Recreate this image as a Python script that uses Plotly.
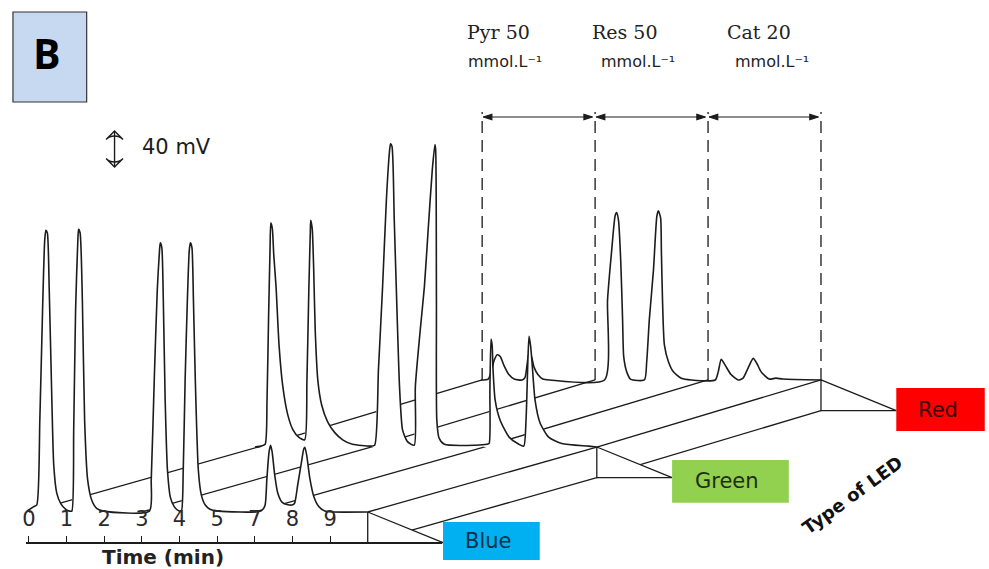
import plotly.graph_objects as go

W, H = 989, 569

# Chromatograms, one per LED: position on the run-time axis and detector signal (mV)
blue_t = [-0.05, 0.13, 0.21, 0.29, 0.37, 0.42, 0.45, 0.49, 0.54, 0.61, 0.66, 0.74, 0.85, 0.98, 1.08,
          1.14, 1.19, 1.24, 1.30, 1.32, 1.36, 1.42, 1.48, 1.56, 1.67, 1.80, 1.98,
          3.20, 3.25, 3.33, 3.41, 3.47, 3.49, 3.53, 3.57, 3.62, 3.68, 3.76, 3.86, 3.99,
          4.05, 4.10, 4.15, 4.21, 4.26, 4.29, 4.33, 4.37, 4.42, 4.50, 4.58, 4.68, 4.81, 5.03,
          6.16, 6.27, 6.32, 6.38, 6.42, 6.46, 6.53, 6.61, 6.72, 6.88, 7.01,
          7.06, 7.14, 7.25, 7.30, 7.33, 7.38, 7.46, 7.57, 7.70, 7.86, 8.07, 9.00]
blue_mv = [1, 6, 8, 102, 236, 302, 313, 310, 247, 124, 52, 21, 9, 3, 1,
           1, 91, 224, 302, 314, 310, 236, 102, 36, 13, 4, 1,
           1, 36, 147, 247, 291, 299, 294, 236, 124, 47, 16, 6, 1,
           1, 47, 147, 236, 291, 299, 294, 236, 147, 47, 19, 8, 3, 1,
           1, 7, 36, 67, 74, 67, 41, 21, 11, 8, 8,
           10, 30, 58, 70, 72, 63, 38, 17, 6, 1, 0, 0]

green_t = [-0.08, 0.08, 0.19, 0.24, 0.28, 0.32, 0.34, 0.38, 0.42, 0.48, 0.56, 0.66, 0.79, 0.93, 1.08, 1.24,
           1.30, 1.35, 1.39, 1.40, 1.44, 1.48, 1.52, 1.59, 1.69, 1.85, 2.04, 2.25, 2.51, 2.99, 3.10,
           3.20, 3.31, 3.41, 3.49, 3.52, 3.56, 3.62, 3.70, 3.76, 3.84, 3.97, 4.15,
           4.18, 4.31, 4.42, 4.52, 4.63, 4.70, 4.72, 4.74, 4.75, 4.81, 4.95, 5.77, 6.08,
           6.14, 6.16, 6.19, 6.22, 6.24, 6.30, 6.43, 6.67, 6.93, 7.06,
           7.12, 7.17, 7.20, 7.24, 7.28, 7.36, 7.49, 7.72, 8.07, 8.78, 9.00]
green_mv = [0, 1, 3, 52, 141, 219, 249, 243, 213, 178, 113, 67, 36, 19, 11, 8,
            74, 174, 239, 252, 243, 197, 130, 74, 47, 28, 16, 8, 3, 1, 2,
            86, 178, 274, 327, 337, 334, 252, 141, 67, 19, 6, 2,
            67, 130, 178, 241, 308, 336, 330, 163, 30, 10, 3, 2, 3,
            4, 63, 120, 113, 89, 52, 30, 11, 3, 1,
            30, 97, 123, 113, 94, 52, 27, 11, 4, 1, 0]

red_t = [-0.03, 0.16, 0.24, 0.32, 0.40, 0.48, 0.58, 0.71, 0.85, 1.06, 1.14, 1.19, 1.24, 1.30, 1.38, 1.48, 1.61, 1.80,
         3.25, 3.33, 3.44, 3.53, 3.57, 3.62, 3.68, 3.73, 3.76, 3.84, 3.94, 4.31,
         4.37, 4.44, 4.55, 4.64, 4.68, 4.74, 4.76, 4.79, 4.84, 4.95, 5.08, 5.29, 5.56,
         6.19, 6.27, 6.35, 6.46, 6.61, 6.80, 6.93, 7.06, 7.20, 7.30, 7.41, 7.62, 7.80, 7.99, 9.00]
red_mv = [0, 1, 9, 22, 28, 26, 16, 6, 1, 0, 3, 16, 29, 27, 14, 6, 1, 0,
          0, 89, 144, 182, 186, 178, 133, 67, 26, 9, 1, 0,
          20, 67, 122, 182, 188, 180, 144, 89, 39, 20, 9, 2, 0,
          0, 9, 23, 16, 6, 0, 2, 13, 24, 18, 9, 1, 2, 1, 0]

time_tick_labels = ["0", "1", "2", "3", "4", "5", "7", "8", "9"]
section_bounds = [0, 3, 6, 9]
section_labels = ["Pyr 50", "Res 50", "Cat 20"]
conc_unit = "mmol.L\u207b\u00b9"
led_names = ["Blue", "Green", "Red"]
scale_bar_mv = 40

# Drawing geometry (pseudo-3D waterfall)
PX_T = 37.8                 # px per time step
PX_MV = 0.9                 # px per mV
X_ORIGIN, Y_ORIGIN = 25, 512
DEPTH = [(0.0, 0.0), (6.085, 72.2), (12.04, 146.7)]   # plane offsets (time, mV)
SLAB = 34                   # plinth under each plane, mV
POINTER = 2.0               # wedge length toward each LED label, time units
T_END = section_bounds[-1]
LED_FILL = ["#00b0f0", "#92d050", "#ff0000"]
LED_TEXT = ["#10304e", "#1f2e12", "#3a0505"]
BOX = [(2.57, 19.3, 22.9), (3.10, 28.0, 19.6), (2.35, 22.7, 25.0)]  # width, below, above
LINE = "#1c1c1c"

X0, X1 = -X_ORIGIN / PX_T, (W - X_ORIGIN) / PX_T
Y0, Y1 = -(H - Y_ORIGIN) / PX_MV, Y_ORIGIN / PX_MV


def to_data(px, py):
    return (px - X_ORIGIN) / PX_T, (Y_ORIGIN - py) / PX_MV


fig = go.Figure()


def seg(x, y, width=1.3, dash=None, color=LINE):
    fig.add_trace(go.Scatter(x=x, y=y, mode="lines", hoverinfo="skip", showlegend=False,
                             line=dict(color=color, width=width, dash=dash)))


def plane(k, t, mv):
    du, dv = DEPTH[k]
    xs = [ti + du for ti in t]
    ys = [m + dv for m in mv]
    fig.add_trace(go.Scatter(x=xs + [xs[-1], xs[0]], y=ys + [dv, dv], mode="lines",
                             fill="toself", fillcolor="white", line=dict(width=0),
                             hoverinfo="skip", showlegend=False))
    fig.add_trace(go.Scatter(x=xs, y=ys, mode="lines", name=led_names[k], showlegend=False,
                             hoverinfo="skip",
                             line=dict(color=LINE, width=1.6, shape="spline", smoothing=0.6)))


def links(k):
    du0, dv0 = DEPTH[k]
    du1, dv1 = DEPTH[k + 1]
    xs, ys = [], []
    for b in section_bounds:
        xs += [b + du0, b + du1, None]
        ys += [dv0, dv1, None]
    xs += [T_END + du0, T_END + du1]
    ys += [dv0 - SLAB, dv1 - SLAB]
    seg(xs, ys)


def wedge(k):
    du, dv = DEPTH[k]
    x0 = T_END + du
    fig.add_trace(go.Scatter(x=[x0, x0, x0 + POINTER, x0], y=[dv, dv - SLAB, dv - SLAB, dv],
                             mode="lines", fill="toself", fillcolor="white",
                             line=dict(color=LINE, width=1.3), hoverinfo="skip", showlegend=False))


def double_arrow(x, y, angles, symbol, size, width):
    # shaft plus a head at each end; arrow symbols put their tip on the point
    fig.add_trace(go.Scatter(x=x, y=y, mode="lines+markers", hoverinfo="skip", showlegend=False,
                             line=dict(color=LINE, width=width),
                             marker=dict(symbol=symbol, size=size, angle=angles, color=LINE,
                                         line=dict(color=LINE, width=width))))


# dimension lines marking each analyte section on the back plane
dim_top = to_data(0, 112)[1]
du_r, dv_r = DEPTH[2]
dx, dy = [], []
for b in section_bounds:
    dx += [b + du_r, b + du_r, None]
    dy += [dv_r, dim_top, None]
seg(dx, dy, width=1.4, dash="12px,7px", color="#2a2a2a")

arrow_v = to_data(0, 117)[1]
for i in range(len(section_labels)):
    a = section_bounds[i] + du_r + 0.03
    b = section_bounds[i + 1] + du_r - 0.07
    double_arrow([a, b], [arrow_v, arrow_v], [270, 90], "arrow", 9, 1.2)

# 40 mV scale bar
sx, sy = to_data(111, 167)
double_arrow([sx, sx], [sy, sy + scale_bar_mv], [180, 0], "arrow-wide-open", 12, 1.4)

# back to front with opaque bodies so hidden lines disappear
plane(2, red_t, red_mv)
links(1)
wedge(2)
wedge(1)
plane(1, green_t, green_mv)
links(0)
wedge(0)
plane(0, blue_t, blue_mv)

# carrier trace for the run-time axis
fig.add_trace(go.Scatter(x=[0], y=[0], xaxis="x2", yaxis="y", mode="markers",
                         marker=dict(opacity=0), hoverinfo="skip", showlegend=False))

ax_left, ax_right = 22, 440
axis_y = Y_ORIGIN + SLAB * PX_MV

shapes = [dict(type="rect", xref="paper", yref="paper", x0=9 / W, x1=83 / W,
               y0=1 - 102 / H, y1=1 - 12 / H, fillcolor="#c6d9f1",
               line=dict(color="#333333", width=1.2))]
annotations = []


def label(text, px, py, size, family="DejaVu Sans", color=LINE, bold=False, angle=0,
          xanchor="center"):
    annotations.append(dict(x=px / W, y=1 - py / H, xref="paper", yref="paper",
                            text=f"<b>{text}</b>" if bold else text, showarrow=False,
                            xanchor=xanchor, yanchor="middle", textangle=angle,
                            font=dict(family=family, size=size, color=color)))


label("B", 43, 53, 41, family="Open Sans", color="#000000", bold=True)
label("40 mV", 137, 147, 21, xanchor="left")

label_px = [(497, 503), (624, 637), (758, 771)]
for i, name in enumerate(section_labels):
    label(name, label_px[i][0], 32, 19, family="DejaVu Serif", color="#222222")
    label(conc_unit, label_px[i][1], 62, 16, color="#222222")

# LED labels
for k, name in enumerate(led_names):
    du, dv = DEPTH[k]
    fx = T_END + du + POINTER
    fy = dv - SLAB
    w, below, above = BOX[k]
    shapes.append(dict(type="rect", xref="x", yref="y", x0=fx, x1=fx + w,
                       y0=fy - below, y1=fy + above, fillcolor=LED_FILL[k],
                       line=dict(width=0), layer="above"))
    annotations.append(dict(x=fx + w / 2 - 0.08, y=fy + (above - below) / 2, xref="x", yref="y",
                            text=name, showarrow=False, xanchor="center", yanchor="middle",
                            font=dict(family="DejaVu Sans", size=21, color=LED_TEXT[k])))

label("Time (min)", 160, 557, 20, bold=True, color="#222222")
label("Type of LED", 851, 495, 18, bold=True, color="#111111", angle=-36)

fig.update_layout(
    width=W, height=H, autosize=False,
    margin=dict(l=0, r=0, t=0, b=0, pad=0),
    paper_bgcolor="white", plot_bgcolor="rgba(0,0,0,0)",
    xaxis=dict(range=[X0, X1], visible=False, fixedrange=True),
    yaxis=dict(range=[Y0, Y1], visible=False, fixedrange=True),
    xaxis2=dict(domain=[ax_left / W, ax_right / W],
                range=[X0 + (X1 - X0) * ax_left / W, X0 + (X1 - X0) * ax_right / W],
                anchor="free", position=1 - axis_y / H, side="top",
                tickmode="array", tickvals=list(range(len(time_tick_labels))),
                ticktext=time_tick_labels, ticks="outside", ticklen=6, tickwidth=1.3,
                tickcolor=LINE, showline=True, linecolor=LINE, linewidth=1.6,
                showgrid=False, zeroline=False, fixedrange=True, ticklabelstandoff=1,
                tickfont=dict(family="DejaVu Sans", size=21, color="#2a2a2a")),
    shapes=shapes,
    annotations=annotations,
    showlegend=False,
)

fig.write_html("out.html", config={"displayModeBar": False},
               post_script="document.body.style.margin='0';")
